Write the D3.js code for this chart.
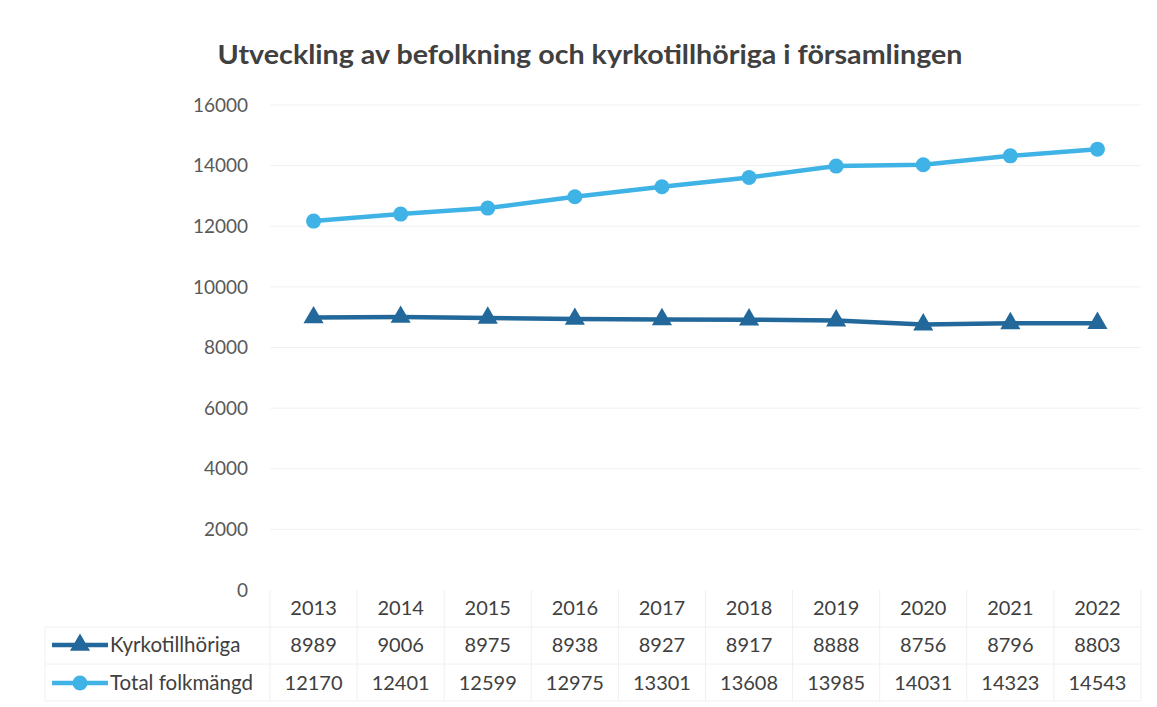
<!DOCTYPE html>
<html>
<head>
<meta charset="utf-8">
<script src="https://cdn.jsdelivr.net/npm/d3@7"></script>
<style>
  body { margin: 0; background: #fff; }
  text { font-family: Lato, "Open Sans", sans-serif; }
</style>
</head>
<body>
<div id="chart"></div>
<script>
const years = ["2013", "2014", "2015", "2016", "2017", "2018", "2019", "2020", "2021", "2022"];
const kyrko = [8989, 9006, 8975, 8938, 8927, 8917, 8888, 8756, 8796, 8803];
const total = [12170, 12401, 12599, 12975, 13301, 13608, 13985, 14031, 14323, 14543];
const yTicks = [0, 2000, 4000, 6000, 8000, 10000, 12000, 14000, 16000];
const title = "Utveckling av befolkning och kyrkotillhöriga i församlingen";

const series = [
  { name: "Kyrkotillhöriga", values: kyrko, color: "#23689a", marker: "triangle" },
  { name: "Total folkmängd", values: total, color: "#3fb3e6", marker: "circle" }
];

const width = 1157, height = 707;
const plotLeft = 270, plotRight = 1141, plotTop = 105, plotBottom = 590;
const tableLeft = 45;
const rowYs = [608, 645, 683];
const rowLines = [590, 627, 664, 701];

const svg = d3.select("#chart").append("svg")
  .attr("width", width)
  .attr("height", height);

const x = d3.scaleBand().domain(years).range([plotLeft, plotRight]);
const y = d3.scaleLinear().domain([0, 16000]).range([plotBottom, plotTop]);

// title
svg.append("text")
  .attr("x", 590)
  .attr("y", 64)
  .attr("text-anchor", "middle")
  .attr("font-size", "26px")
  .attr("font-weight", "bold")
  .attr("fill", "#404040")
  .attr("textLength", 745)
  .attr("lengthAdjust", "spacingAndGlyphs")
  .text(title);

// gridlines
svg.append("g")
  .selectAll("line")
  .data(yTicks.filter((d) => d > 0))
  .join("line")
  .attr("x1", plotLeft)
  .attr("x2", plotRight)
  .attr("y1", (d) => y(d))
  .attr("y2", (d) => y(d))
  .attr("stroke", "#f1f1f1")
  .attr("stroke-width", 1);

// y axis labels
svg.append("g")
  .selectAll("text")
  .data(yTicks)
  .join("text")
  .attr("x", 248)
  .attr("y", (d) => y(d))
  .attr("dy", "0.35em")
  .attr("text-anchor", "end")
  .attr("font-size", "19px")
  .attr("fill", "#595959")
  .text((d) => d);

// data table grid
const gridG = svg.append("g").attr("stroke", "#f0f0f0").attr("stroke-width", 1);
gridG.selectAll("line.v")
  .data(years.map((yr) => x(yr)).concat([plotRight]))
  .join("line")
  .attr("class", "v")
  .attr("x1", (d) => d).attr("x2", (d) => d)
  .attr("y1", plotBottom).attr("y2", rowLines[3]);
gridG.selectAll("line.h")
  .data(rowLines.slice(1))
  .join("line")
  .attr("class", "h")
  .attr("x1", tableLeft).attr("x2", plotRight)
  .attr("y1", (d) => d).attr("y2", (d) => d);
gridG.append("line")
  .attr("x1", tableLeft).attr("x2", tableLeft)
  .attr("y1", rowLines[1]).attr("y2", rowLines[3]);

// year row
svg.append("g")
  .selectAll("text")
  .data(years)
  .join("text")
  .attr("x", (d) => x(d) + x.bandwidth() / 2)
  .attr("y", rowYs[0])
  .attr("dy", "0.35em")
  .attr("text-anchor", "middle")
  .attr("font-size", "20px")
  .attr("fill", "#404040")
  .text((d) => d);

const line = d3.line()
  .x((d, i) => x(years[i]) + x.bandwidth() / 2)
  .y((d) => y(d));

const triangle = d3.symbol().type(d3.symbolTriangle).size(175);

series.forEach((s, si) => {
  const g = svg.append("g");
  g.append("path")
    .attr("d", line(s.values))
    .attr("fill", "none")
    .attr("stroke", s.color)
    .attr("stroke-width", 4.5);

  const pts = g.selectAll(".pt")
    .data(s.values)
    .join("g")
    .attr("class", "pt")
    .attr("transform", (d, i) => `translate(${x(years[i]) + x.bandwidth() / 2},${y(d)})`);

  if (s.marker === "circle") {
    pts.append("circle").attr("r", 7.5).attr("fill", s.color);
  } else {
    pts.append("path").attr("d", triangle).attr("fill", s.color);
  }

  // table row
  const ry = rowYs[si + 1];
  svg.append("g")
    .selectAll("text")
    .data(s.values)
    .join("text")
    .attr("x", (d, i) => x(years[i]) + x.bandwidth() / 2)
    .attr("y", ry)
    .attr("dy", "0.35em")
    .attr("text-anchor", "middle")
    .attr("font-size", "20px")
    .attr("fill", "#404040")
    .text((d) => d);

  // legend key in table
  const key = svg.append("g").attr("transform", `translate(52,${ry})`);
  key.append("line")
    .attr("x1", 0).attr("x2", 56)
    .attr("stroke", s.color)
    .attr("stroke-width", 4.5);
  if (s.marker === "circle") {
    key.append("circle").attr("cx", 28).attr("r", 7.5).attr("fill", s.color);
  } else {
    key.append("path").attr("transform", "translate(28,0)").attr("d", triangle).attr("fill", s.color);
  }
  key.append("text")
    .attr("x", 58)
    .attr("dy", "0.35em")
    .attr("font-size", "20.5px")
    .attr("fill", "#404040")
    .text(s.name);
});
</script>
</body>
</html>
